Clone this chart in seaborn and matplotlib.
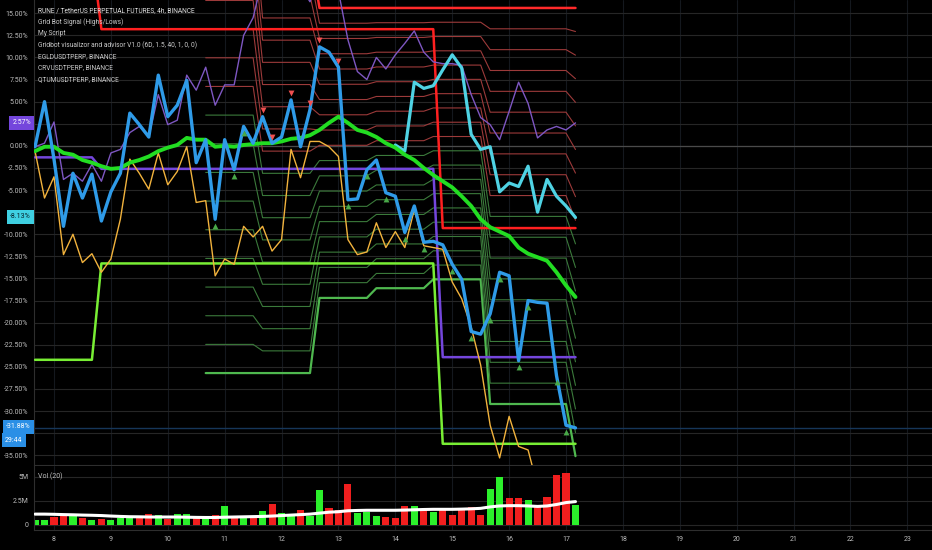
import numpy as np
import pandas as pd
import matplotlib
matplotlib.use("Agg")
import matplotlib.pyplot as plt
import matplotlib.dates as mdates
from matplotlib.ticker import FuncFormatter
import seaborn as sns

# 4h bars, % change vs first bar
times = pd.date_range("2021-06-07 16:00", periods=58, freq="4h")
nan = np.nan

rune = [-0.1, 5.0, -1.5, -9.1, -3.1, -5.9, -3.2, -8.5, -5.2, -3.1,
        3.7, 2.4, 1.0, 8.0, 3.3, 4.6, 7.4, -1.9, 0.7, -8.3,
        0.7, -2.7, 2.2, 0.3, 3.3, 0.3, 1.0, 5.2, -0.1, 4.1,
        11.2, 10.6, 8.9, -6.1, -6.0, -2.7, -1.6, -5.3, -5.7, -9.8,
        -6.8, -10.9, -10.8, -11.2, -13.4, -15.1, -21.0, -21.3, -19.0, -14.3,
        -14.7, -24.3, -17.5, -17.7, -17.8, -26.0, -31.6, -31.9]
egld = [-0.1, 0.3, 2.7, -3.8, -3.1, -4.0, -2.1, -4.0, -0.8, -0.4,
        1.5, 2.2, 1.0, 5.8, 2.4, 2.9, 8.0, 6.3, 8.9, 4.6,
        6.9, 6.9, 12.5, 14.5, 19.0, 21.0, 20.0, 22.0, 18.0, 16.3,
        19.0, 20.0, 17.5, 12.0, 8.4, 7.5, 10.0, 8.7, 10.3, 11.6,
        13.0, 10.6, 9.5, 9.3, 9.3, 9.1, 5.8, 3.2, 2.4, 0.7,
        3.9, 7.2, 4.8, 0.9, 1.8, 2.2, 1.8, 2.6]
crv = [-0.6, -5.9, -3.5, -12.3, -10.0, -13.2, -12.2, -14.3, -12.8, -8.3,
       -1.5, -3.1, -4.9, -0.8, -4.4, -2.9, -0.1, -6.4, -6.2, -14.7,
       -12.8, -13.4, -9.1, -10.3, -9.1, -11.9, -10.6, -0.4, -3.6, 0.5,
       0.5, -0.1, -1.2, -10.6, -12.3, -12.0, -8.7, -11.5, -9.7, -11.5,
       -7.2, -11.3, -11.5, -11.7, -15.4, -17.3, -20.5, -24.8, -31.6, -35.3,
       -30.6, -34.0, -34.4, -38.5, nan, nan, nan, nan]
qtum = [nan] * 38 + [0.1, -0.6, 7.2, 6.5, 6.8, 8.6, 10.3, 8.8, 1.3, -0.4,
                     -0.1, -5.2, -4.2, -4.6, -2.3, -7.5, -3.8, -5.7, -6.8, -8.1]
rune_ma = [-0.6, -0.1, -0.1, -0.8, -1.0, -1.6, -1.9, -2.3, -2.6, -2.5,
           -1.9, -1.6, -1.2, -0.6, -0.2, 0.1, 0.9, 0.7, 0.7, -0.1,
           0.0, -0.1, 0.1, 0.2, 0.3, 0.3, 0.5, 0.8, 0.9, 1.2,
           1.8, 2.6, 3.3, 2.6, 1.8, 1.5, 1.0, 0.3, -0.2, -1.0,
           -1.6, -2.5, -3.3, -4.0, -4.7, -5.7, -6.8, -8.3, -9.2, -9.7,
           -10.2, -11.5, -12.2, -12.6, -13.0, -14.3, -15.8, -17.1]

# grid bot signal (highs / lows): (first bar, value)
sig_high = [(0, 21.7), (7, 13.2), (43, -9.3)]
sig_mid = [(0, -1.3), (7, -2.6), (43, -23.9)]
sig_low = [(0, -24.2), (7, -13.3), (43, -33.7)]

# gridbot visualizer: daily grid, 20 levels between low and high
seg_first = [18, 24, 30, 36, 42, 48, 57]
seg_low = [-25.7, -25.7, -17.2, -16.1, -15.1, -29.2, -35.1]
seg_high = [35.9, 22.0, 15.6, 15.6, 15.6, 15.6, 15.6]
n_levels = 20

buy_bars = [19, 21, 22, 33, 35, 37, 39, 41, 44, 46, 48, 49, 51, 52, 55, 56]
sell_bars = [24, 25, 27, 29, 30, 32]

# volume (millions)
vol = [0.49, 0.49, 0.76, 0.9, 0.9, 0.66, 0.49, 0.55, 0.49, 0.66,
       0.66, 0.66, 1.1, 0.97, 0.55, 1.1, 1.1, 0.66, 0.66, 0.97,
       1.9, 0.76, 0.76, 0.76, 1.46, 2.15, 1.25, 0.9, 1.53, 0.9,
       3.6, 1.7, 1.53, 4.2, 1.25, 1.35, 0.9, 0.76, 0.7, 1.94,
       1.94, 1.53, 1.32, 1.53, 1.0, 1.53, 1.8, 1.0, 3.7, 5.0,
       2.74, 2.8, 2.57, 1.87, 2.85, 5.2, 5.4, 2.05]
vol_dir = "ggrrgrgrgggrrgrggrgrgrgrgrggrggrrrgggrrrgrgrrrrrggrrgrrrrg"
vol_ma = [1.1, 1.1, 1.08, 1.05, 1.03, 1.0, 0.98, 0.95, 0.9, 0.86,
          0.83, 0.82, 0.8, 0.8, 0.8, 0.8, 0.78, 0.76, 0.75, 0.75,
          0.78, 0.8, 0.82, 0.84, 0.86, 0.9, 0.95, 1.0, 1.05, 1.1,
          1.2, 1.3, 1.35, 1.45, 1.48, 1.5, 1.5, 1.5, 1.5, 1.52,
          1.55, 1.58, 1.6, 1.6, 1.6, 1.62, 1.65, 1.7, 1.85, 1.95,
          1.98, 1.98, 1.95, 1.9, 1.95, 2.1, 2.3, 2.4]

legend_lines = ["RUNE / TetherUS PERPETUAL FUTURES, 4h, BINANCE",
                "Grid Bot Signal (Highs/Lows)",
                "My Script",
                "Gridbot visualizor and advisor V1.0 (6D, 1.5, 40, 1, 0, 0)",
                "EGLDUSDTPERP, BINANCE",
                "CRVUSDTPERP, BINANCE",
                "QTUMUSDTPERP, BINANCE"]

# price-scale ticks hidden behind the last-value tags
hidden_ticks = [2.5, -32.5]


def steps(pairs):
    out = np.empty(len(times))
    for j, (first, v) in enumerate(pairs):
        last = pairs[j + 1][0] if j + 1 < len(pairs) else len(times)
        out[first:last] = v
    return out


rows = []
for s, first in enumerate(seg_first):
    last = seg_first[s + 1] if s + 1 < len(seg_first) else len(times)
    step = (seg_high[s] - seg_low[s]) / (n_levels - 1)
    for i in range(first, last):
        for k in range(n_levels):
            rows.append((times[i], k, seg_low[s] + k * step))
grid_df = pd.DataFrame(rows, columns=["time", "level", "value"])

sns.set_style("dark", {"axes.facecolor": "#000000", "figure.facecolor": "#000000"})
plt.rcParams["font.family"] = ["Roboto", "DejaVu Sans"]

W, H = 932, 550
fig = plt.figure(figsize=(W / 100, H / 100), dpi=100)
ax = fig.add_axes([34 / W, (H - 465) / H, (W - 34) / W, 465 / H])
axv = fig.add_axes([34 / W, (H - 530) / H, (W - 34) / W, 64 / H], sharex=ax)

# grid levels
for k in range(n_levels):
    d = grid_df[grid_df.level == k]
    if k == 0:
        c, lw = "#4fb84f", 1.6
    elif k == n_levels - 1:
        c, lw = "#ff2a2a", 1.8
    elif k < n_levels // 2:
        c, lw = "#3b7a3b", 0.8
    else:
        c, lw = "#9c3a3a", 0.8
    sns.lineplot(data=d, x="time", y="value", ax=ax, color=c, linewidth=lw,
                 estimator=None, legend=False, zorder=2)

ax.axhline(0, color="#4a4a4a", lw=0.9, zorder=1)
ax.axhline(-31.88, color="#163659", lw=1.0, zorder=1)

sns.lineplot(x=times, y=steps(sig_high), ax=ax, color="#ff2020", linewidth=1.8, estimator=None, zorder=3)
sns.lineplot(x=times, y=steps(sig_low), ax=ax, color="#78ee34", linewidth=1.8, estimator=None, zorder=3)
sns.lineplot(x=times, y=steps(sig_mid), ax=ax, color="#7446dc", linewidth=1.8, estimator=None, zorder=3)

sns.lineplot(x=times, y=crv, ax=ax, color="#f2b33d", linewidth=1.0, estimator=None, zorder=4)
sns.lineplot(x=times, y=egld, ax=ax, color="#7e57c2", linewidth=1.0, estimator=None, zorder=4)
sns.lineplot(x=times, y=qtum, ax=ax, color="#4fd3e4", linewidth=2.3, estimator=None, zorder=5)
sns.lineplot(x=times, y=rune_ma, ax=ax, color="#22dd22", linewidth=2.8, estimator=None, zorder=5)
sns.lineplot(x=times, y=rune, ax=ax, color="#2f9be8", linewidth=2.4, estimator=None, zorder=6)

rune_arr = np.array(rune)
ax.scatter(times[buy_bars], rune_arr[buy_bars] - 0.75, marker="^", s=18, color="#48a848", lw=0, zorder=7)
ax.scatter(times[sell_bars], rune_arr[sell_bars] + 0.75, marker="v", s=18, color="#f05050", lw=0, zorder=7)

ax.set_xlim(pd.Timestamp("2021-06-07 15:34"), pd.Timestamp("2021-06-23 10:24"))
ax.set_ylim(-36.1, 16.5)
ax.set_yticks(np.arange(-35, 15.1, 2.5))
ax.yaxis.set_major_formatter(FuncFormatter(
    lambda v, p: "" if any(abs(v - h) < 0.01 for h in hidden_ticks) else f"{v:.2f}%"))
ax.xaxis.set_major_locator(mdates.DayLocator())
ax.tick_params(axis="x", labelbottom=False, length=0)
ax.tick_params(axis="y", length=0, pad=4, labelsize=5.0, labelcolor="#bdbdbd")
ax.set_xlabel("")
ax.set_ylabel("")
ax.grid(True, axis="y", color="#262626", lw=0.8)
ax.grid(True, axis="x", color="#14181e", lw=0.8)

# volume pane
bar_cols = ["#2bf02b" if c == "g" else "#f01e1e" for c in vol_dir]
axv.bar(times, vol, width=0.125, color=bar_cols, edgecolor="none", linewidth=0, zorder=2)
sns.lineplot(x=times, y=vol_ma, ax=axv, color="white", linewidth=2.2, estimator=None, zorder=3)
axv.set_ylim(-0.55, 6.1)
axv.set_yticks([0, 2.5, 5])
axv.set_yticklabels(["0", "2.5M", "5M"])
axv.xaxis.set_major_locator(mdates.DayLocator())
axv.xaxis.set_major_formatter(mdates.DateFormatter("%-d"))
axv.tick_params(axis="y", length=0, pad=4, labelsize=5.0, labelcolor="#bdbdbd")
axv.tick_params(axis="x", length=0, pad=4, labelsize=5.0, labelcolor="#bdbdbd")
axv.set_xlabel("")
axv.set_ylabel("")
axv.grid(True, axis="y", color="#262626", lw=0.8)
axv.grid(True, axis="x", color="#14181e", lw=0.8)
axv.text(4 / 898, 5.0, "Vol (20)", transform=axv.get_yaxis_transform(), fontsize=5.0,
         color="#bdbdbd", va="center")

for a in (ax, axv):
    for side in ("top", "right"):
        a.spines[side].set_visible(False)
    a.spines["left"].set_color("#2e2e2e")
    a.spines["bottom"].set_color("#2e2e2e")
    a.spines["left"].set_linewidth(0.8)
    a.spines["bottom"].set_linewidth(0.8)

# legend text top-left
for j, s in enumerate(legend_lines):
    fig.text(38 / W, 1 - (11 + j * 11.4) / H, s, fontsize=4.75, va="center",
             color="#e4e4e4" if j == 0 else "#cccccc")


# last value labels on the price scale
def price_tag(y_px, text, bg, fg="white", right=True):
    fig.text((31 if right else 5) / W, 1 - y_px / H, text, fontsize=5.0, color=fg,
             ha="right" if right else "left", va="center",
             bbox=dict(boxstyle="square,pad=0.45", fc=bg, ec="none"))


price_tag(123, "2.57%", "#7446dc")
price_tag(217, "-8.13%", "#3fd0e2", fg="#06222a")
price_tag(427, "-31.88%", "#2a8fe6")
price_tag(440, "29:44", "#2a8fe6", right=False)

fig.savefig("out.png", dpi=100, facecolor="#000000")
